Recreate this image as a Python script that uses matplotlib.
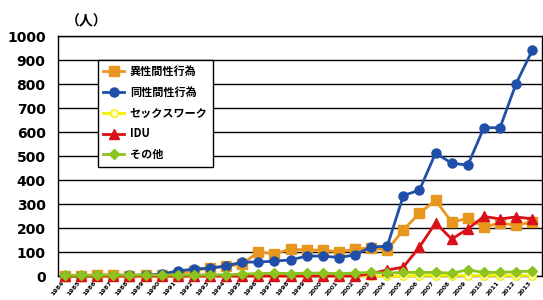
import matplotlib
import numpy as np

matplotlib.use("Agg")
import matplotlib.pyplot as plt

plt.rcParams["font.family"] = ["Noto Sans CJK JP", "DejaVu Sans"]

years = list(range(1984, 2014))

# 異性間性行為
hetero = [0, 0, 3, 5, 2, 3, 5, 10, 22, 33, 40, 50, 100, 92, 112, 108,
          108, 100, 112, 117, 108, 192, 262, 315, 225, 240, 205, 220, 212, 225]
# 同性間性行為
homo = [0, 0, 1, 2, 3, 4, 8, 21, 29, 33, 42, 58, 58, 62, 67, 83,
        83, 77, 88, 121, 124, 335, 358, 512, 470, 462, 618, 618, 802, 940]
# セックスワーク
sexwork = [0, 0, 0, 0, 0, 0, 0, 0, 0, 0, 0, 0, 0, 0, 0, 0,
           0, 0, 0, 0, 0, 0, 2, 2, 2, 2, 2, 2, 2, 2]
# IDU
idu = [0, 0, 0, 0, 0, 0, 0, 0, 0, 0, 0, 0, 0, 0, 0, 0,
       0, 0, 0, 10, 25, 37, 121, 221, 154, 196, 248, 238, 246, 238]
# その他
other = [3, 3, 4, 4, 4, 4, 4, 4, 4, 5, 5, 8, 10, 12, 10, 12,
         12, 10, 12, 15, 12, 15, 15, 15, 12, 25, 15, 15, 18, 20]

series = [
    ("異性間性行為", hetero, "#E8961E", "s", 6.5),
    ("同性間性行為", homo, "#1F4FA8", "o", 6.5),
    ("セックスワーク", sexwork, "#F4F000", "o", 5.5),
    ("IDU", idu, "#D8101A", "^", 6.5),
    ("その他", other, "#8CC31E", "D", 5.5),
]

fig = plt.figure(figsize=(5.43, 3.0), dpi=100)
ax = fig.add_axes([0.107, 0.08, 0.891, 0.80])

for label, values, color, marker, size in series:
    face = "#FFFFC0" if label == "セックスワーク" else color
    ax.plot(years, values, color=color, marker=marker, markersize=size,
            markerfacecolor=face, markeredgecolor=color, linewidth=2.0,
            label=label, clip_on=False, zorder=3)

ax.set_ylim(0, 1000)
ax.set_xlim(1983.57, 2013.6)
ax.set_yticks(range(0, 1001, 100))
ax.set_yticklabels([str(v) for v in range(0, 1001, 100)],
                   fontsize=10, fontweight="bold", family="DejaVu Sans")
ax.set_xticks(years)
ax.set_xticklabels([str(y) for y in years], rotation=50, ha="right",
                   fontsize=4.5, fontweight="bold", family="DejaVu Sans")
ax.tick_params(axis="y", length=0, pad=9)
ax.tick_params(axis="x", length=0, pad=3)
ax.grid(axis="y", color="black", linewidth=1.0)
ax.set_axisbelow(True)
for side in ["left", "bottom", "top", "right"]:
    ax.spines[side].set_color("black")
    ax.spines[side].set_linewidth(1.0)

fig.text(0.16, 0.93, "（人）", fontsize=10, fontweight="bold", ha="center", va="center")

leg = ax.legend(loc="upper left", bbox_to_anchor=(0.07, 0.925),
                prop={"size": 8, "weight": "bold"}, frameon=True,
                fancybox=False, edgecolor="black", framealpha=1,
                handlelength=1.9, handletextpad=0.5, borderpad=0.5,
                labelspacing=0.7)
leg.get_frame().set_linewidth(1.0)

fig.savefig("out.png", dpi=100)
